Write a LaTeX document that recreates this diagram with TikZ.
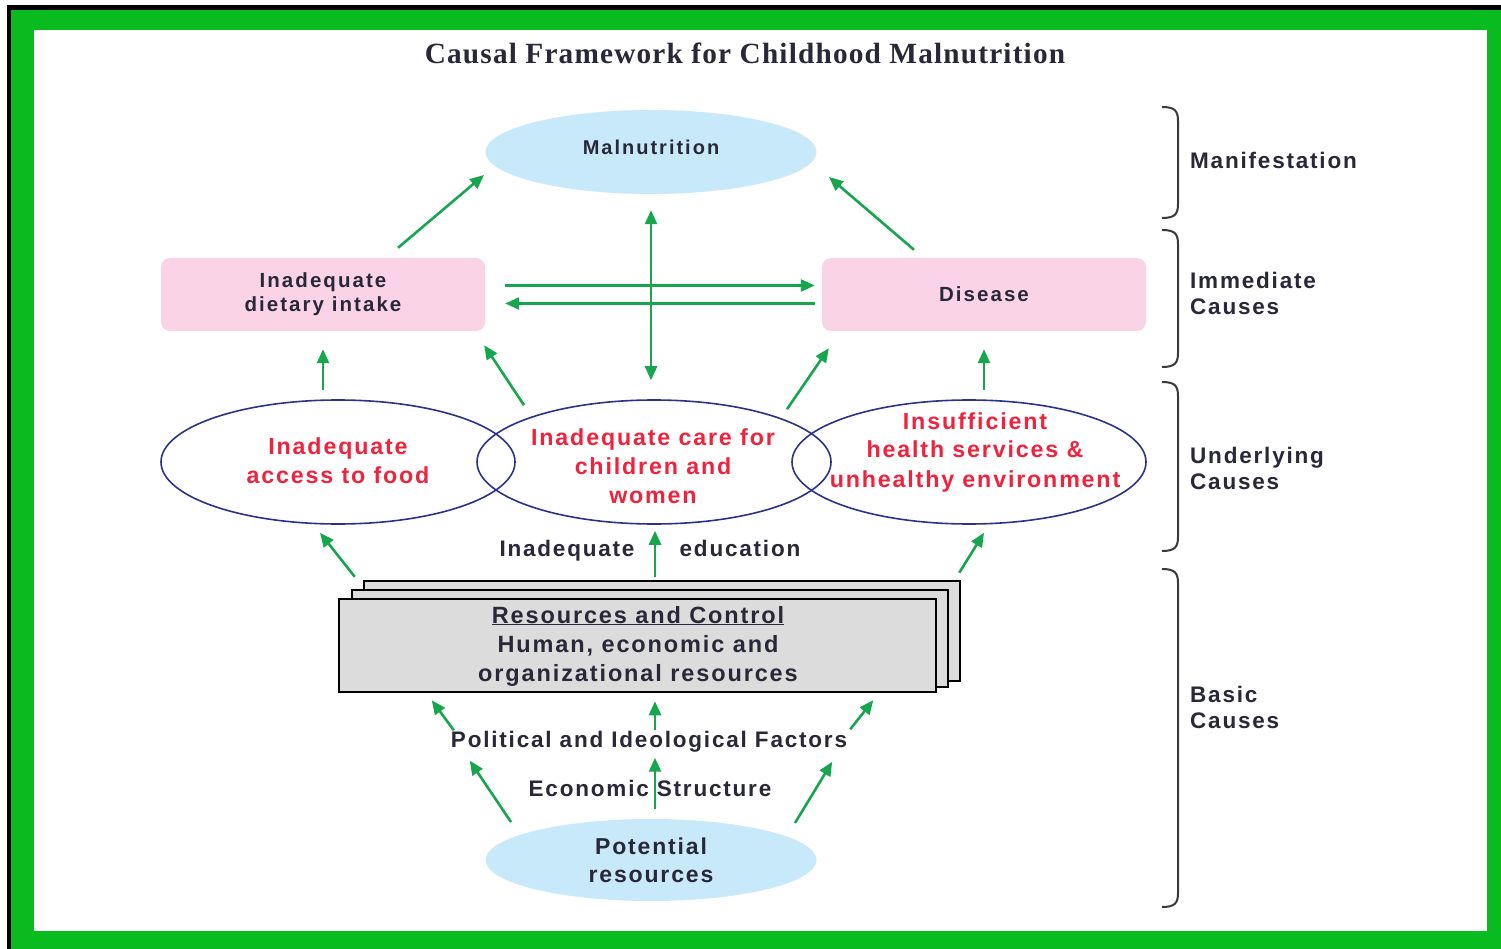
\documentclass[tikz,border=0pt]{standalone}
\usepackage{fontspec}
\setmainfont{Liberation Sans}
\newfontfamily\trk{Liberation Sans}[LetterSpace=10]
\newfontfamily\trn{Liberation Sans}[LetterSpace=8]
\newfontfamily\ttlfont{Liberation Serif}[LetterSpace=4]
\usetikzlibrary{arrows.meta,shapes.geometric,calc}

\definecolor{framegreen}{RGB}{8,188,31}
\definecolor{arrowgreen}{RGB}{22,166,78}
\definecolor{ink}{RGB}{40,40,56}
\definecolor{warm}{RGB}{240,34,60}
\definecolor{navy}{RGB}{44,50,140}
\definecolor{pinkfill}{RGB}{250,212,230}
\definecolor{skyfill}{RGB}{200,233,250}
\definecolor{stackfill}{RGB}{220,220,220}
\definecolor{bracegray}{RGB}{58,58,58}

\tikzset{
  lab/.style={font=\trn\bfseries\fontsize{22.5}{26}\selectfont, text=ink, align=center, inner sep=0pt},
  redlab/.style={font=\trn\bfseries\fontsize{23.2}{29}\selectfont, text=warm, align=center},
  arr/.style={draw=arrowgreen, line width=2.6pt, -{Triangle[length=14pt,width=12pt]}},
  twoway/.style={draw=arrowgreen, line width=2.6pt, {Triangle[length=14pt,width=12pt]}-{Triangle[length=14pt,width=12pt]}},
  immbox/.style={rectangle, rounded corners=9pt, fill=pinkfill, minimum width=324pt, minimum height=73pt,
    font=\trk\bfseries\fontsize{20.5}{24}\selectfont, text=ink, align=center},
  causeoval/.style={ellipse, draw=navy, line width=1.6pt, minimum width=354pt, minimum height=124pt, inner sep=0pt},
  skyoval/.style={ellipse, fill=skyfill, minimum width=331pt, minimum height=82pt, inner sep=0pt,
    font=\trn\bfseries\fontsize{23}{28}\selectfont, text=ink, align=center},
  sheet/.style={draw=black, line width=2.5pt, fill=stackfill},
  brace/.style={draw=bracegray, line width=2pt},
}

\begin{document}
\begin{tikzpicture}[x=1pt, y=-1pt]
\useasboundingbox (0,0) rectangle (1501,949);

% frame
\fill[white] (0,0) rectangle (1501,949);
\fill[black] (7,5) rectangle (1501,949);
\fill[framegreen] (11,10) rectangle (1501,949);
\fill[white] (34,30) rectangle (1487,931);

% title
\node[font=\ttlfont\bfseries\fontsize{29.3}{34}\selectfont, text=ink] (title) at (745,53)
  {Causal Framework for Childhood Malnutrition};

% manifestation
\node[skyoval, minimum height=84pt] (mal) at (651,152) {};
\node[lab, font=\trk\bfseries\fontsize{20}{24}\selectfont] (maltxt) at (651,147) {Malnutrition};

% immediate causes
\node[immbox] (diet) at (323,294.5) {Inadequate\\dietary intake};
\node[immbox] (dis) at (984,294.5) {Disease};

% underlying causes
\node[causeoval] (food) at (338,462) {};
\node[causeoval] (care) at (654,462) {};
\node[causeoval] (health) at (969,462) {};
\node[redlab] (foodtxt) at (338,461) {Inadequate\\access to food};
\node[redlab] (caretxt) at (653,466) {Inadequate care for\\children and\\women};
\node[redlab] (healthtxt) at (975,452) {Insufficient\\health services \&\\unhealthy environment};

% education labels
\node[lab, anchor=base] (edl) at (567,556) {Inadequate};
\node[lab, anchor=base] (edr) at (740,556) {education};

% resources and control (stacked sheets)
\draw[sheet] (364,581) rectangle (960,681);
\draw[sheet] (352,590) rectangle (948,687);
\node[sheet, rectangle, minimum width=597pt, minimum height=93pt, inner sep=0pt] (res) at (637.5,645.5) {};
\node[lab, font=\trn\bfseries\fontsize{23.5}{29}\selectfont] (restxt) at (638,646)
  {\underline{Resources and Control}\\Human, economic and\\organizational resources};

% basic causes labels
\node[lab] (pol) at (649,742) {Political and Ideological Factors};
\node[lab] (econ) at (650,788) {Economic Structure};
\node[skyoval] (pot) at (651,860) {Potential\\resources};

% connectors: manifestation level
\draw[arr] ($(diet.north)+(75,-10)$) -- ($(mal.center)+(-167,23)$);
\draw[arr] ($(dis.north)+(-70,-8)$) -- ($(mal.center)+(178,25)$);
\draw[twoway] ($(mal.south)+(0,16)$) -- ($(mal.south |- care.north)+(0,-19)$);
\draw[arr] ($(diet.east)+(20,-9)$) -- ($(dis.west)+(-7,-9)$);
\draw[arr] ($(dis.west)+(-7,9)$) -- ($(diet.east)+(20,9)$);

% connectors: underlying to immediate
\draw[arr] ($(diet.south)+(0,59)$) -- ($(diet.south)+(0,18)$);
\draw[arr] ($(care.north)+(-130,6)$) -- ($(diet.south east)+(-1,14)$);
\draw[arr] ($(care.north)+(133,10)$) -- ($(dis.south west)+(7,17)$);
\draw[arr] ($(dis.south)+(0,59)$) -- ($(dis.south)+(0,18)$);

% connectors: resources to underlying
\draw[arr] ($(res.north west)+(17,-21)$) -- ($(food.south)+(-18,8)$);
\draw[arr] ($(care.south |- res.north)+(1,-21)$) -- ($(care.south)+(1,6)$);
\draw[arr] ($(res.north east)+(22,-25)$) -- ($(health.south)+(15,8)$);

% connectors: potential resources upward
\draw[arr] ($(pot.center)+(-140,-38)$) -- ($(pol.south west)+(19,8)$);
\draw[arr] ($(pol.north west)+(3,-1)$) -- ($(res.south west)+(94,7)$);
\draw[arr] ($(pot.north)+(4,-10)$) -- ($(pot.north |- pol.south)+(4,5)$);
\draw[arr] ($(res.south |- pol.north)+(17.5,-1)$) -- ($(res.south)+(17.5,8)$);
\draw[arr] ($(pot.center)+(144,-37)$) -- ($(pol.south east)+(-15,9)$);
\draw[arr] ($(pol.north east)+(3,-2)$) -- ($(res.south east)+(-64,7)$);

% level braces
\foreach \ya/\yb in {107/218, 230/367, 382/551, 569/907} {
  \draw[brace] (1162,\ya) .. controls (1175,\ya) and (1178,\ya+4) .. (1178,\ya+14)
    -- (1178,\yb-14) .. controls (1178,\yb-4) and (1175,\yb) .. (1162,\yb);
}

% level names
\node[lab, anchor=west, align=left] (lvl1) at (1190,160) {Manifestation};
\node[lab, anchor=west, align=left] (lvl2) at (1190,293) {Immediate\\Causes};
\node[lab, anchor=west, align=left] (lvl3) at (1190,468) {Underlying\\Causes};
\node[lab, anchor=west, align=left] (lvl4) at (1190,707) {Basic\\Causes};
\end{tikzpicture}
\end{document}
